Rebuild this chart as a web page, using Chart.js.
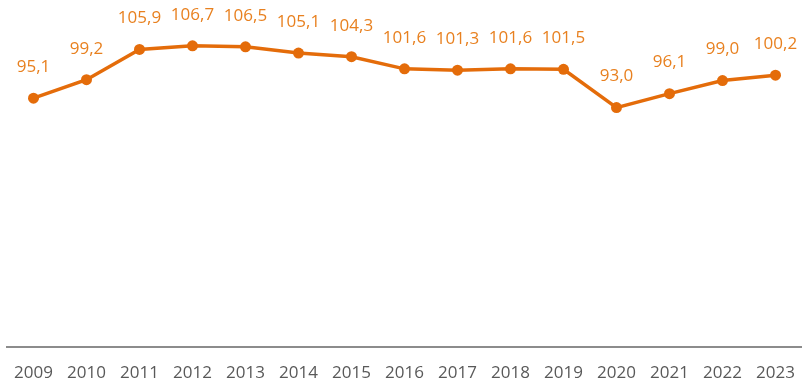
<!DOCTYPE html>
<html>
<head>
<meta charset="utf-8">
<title>Index</title>
<script src="https://cdn.jsdelivr.net/npm/chart.js@4/dist/chart.umd.min.js"></script>
<style>
    html, body { margin: 0; padding: 0; background: #ffffff; }
    #wrap { width: 802px; height: 381px; overflow: hidden; }
</style>
</head>
<body>
<div id="wrap"><canvas id="indexChart" width="802" height="381"></canvas></div>
<script>
const years = ['2009', '2010', '2011', '2012', '2013', '2014', '2015', '2016', '2017', '2018', '2019', '2020', '2021', '2022', '2023'];
const indexValues = [95.1, 99.2, 105.9, 106.7, 106.5, 105.1, 104.3, 101.6, 101.3, 101.6, 101.5, 93.0, 96.1, 99.0, 100.2];

const lineColor = '#E46C0A';
const labelColor = '#E8801F';

// waarde boven elk punt schrijven (komma als decimaalteken)
const valueLabels = {
    id: 'valueLabels',
    afterDatasetsDraw(chart) {
        const ctx = chart.ctx;
        const meta = chart.getDatasetMeta(0);
        ctx.save();
        ctx.font = '17px "Open Sans", sans-serif';
        ctx.fillStyle = labelColor;
        ctx.textAlign = 'center';
        ctx.textBaseline = 'middle';
        meta.data.forEach((point, i) => {
            const text = indexValues[i].toFixed(1).replace('.', ',');
            ctx.fillText(text, point.x, point.y - 31);
        });
        ctx.restore();
    }
};

const ctx = document.getElementById('indexChart').getContext('2d');
new Chart(ctx, {
    type: 'line',
    data: {
        labels: years,
        datasets: [{
            data: indexValues,
            borderColor: lineColor,
            backgroundColor: lineColor,
            borderWidth: 3.5,
            pointRadius: 5.5,
            pointBorderWidth: 0,
            pointBackgroundColor: lineColor,
            tension: 0,
            clip: false
        }]
    },
    options: {
        responsive: false,
        animation: false,
        layout: {
            autoPadding: false,
            padding: { left: 7, right: -3, top: 31, bottom: 0 }
        },
        plugins: {
            legend: { display: false },
            tooltip: { enabled: false }
        },
        scales: {
            x: {
                offset: true,
                grid: { display: false, drawTicks: false },
                border: { display: true, color: '#8C8C8C', width: 2 },
                ticks: {
                    color: '#595959',
                    padding: 16,
                    font: { family: '"Open Sans", sans-serif', size: 17 },
                    maxRotation: 0,
                    autoSkip: false
                },
                afterFit(scale) {
                    scale.height = 34.5;
                    scale.paddingLeft = 0;
                    scale.paddingRight = 0;
                }
            },
            y: {
                display: false,
                min: 40,
                max: 110
            }
        }
    },
    plugins: [valueLabels]
});
</script>
</body>
</html>
